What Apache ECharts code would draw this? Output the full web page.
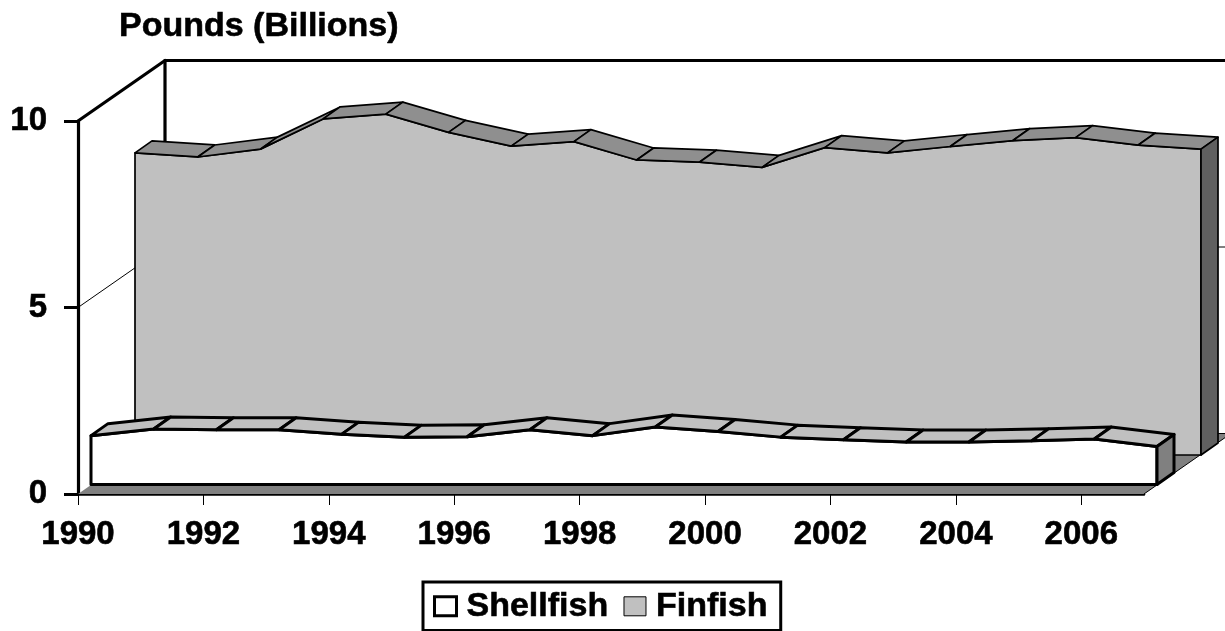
<!DOCTYPE html>
<html>
<head>
<meta charset="utf-8">
<style>html,body{margin:0;padding:0;background:#fff;overflow:hidden}#c{width:1225px;height:631px}</style>
<script src="https://cdn.jsdelivr.net/npm/echarts@6/dist/echarts.min.js"></script>
</head>
<body>
<div id="c"></div>
<script>
var chartTitle = 'Pounds (Billions)';
var years = ['1990','1991','1992','1993','1994','1995','1996','1997','1998','1999','2000','2001','2002','2003','2004','2005','2006','2007'];
var shellfish = [1.31,1.49,1.47,1.47,1.35,1.27,1.28,1.47,1.31,1.54,1.42,1.27,1.20,1.14,1.14,1.17,1.22,1.02];
var finfish = [8.10,7.99,8.20,9.01,9.14,8.65,8.28,8.40,7.91,7.85,7.71,8.24,8.10,8.27,8.43,8.51,8.31,8.20];
var wallTicks = [5];
var axisMax = 10;

var FONT = '"Liberation Sans", Arial, sans-serif';
var BACK = [87, -60.5];
var chart = echarts.init(document.getElementById('c'), null, {renderer: 'canvas'});

function poly(points, fill, stroke, lw) {
  return {type: 'polygon', silent: true, shape: {points: points},
    style: {fill: fill, stroke: stroke || null, lineWidth: lw || 0, lineJoin: 'round'}};
}
function line(a, b, lw, color) {
  return {type: 'line', silent: true, shape: {x1: a[0], y1: a[1], x2: b[0], y2: b[1]},
    style: {stroke: color || '#000', lineWidth: lw, lineCap: 'round'}};
}
function shift(p, o) { return [p[0] + o[0], p[1] + o[1]]; }

function ribbon(values, off, depth, front, top, side, lw) {
  return function (params, api) {
    if (params.dataIndex !== 0) return null;
    var tops = values.map(function (v, i) { return shift(api.coord([i, v]), off); });
    var last = values.length - 1;
    var bl = shift(api.coord([0, 0]), off), br = shift(api.coord([last, 0]), off);
    var kids = [];
    kids.push(poly([bl].concat(tops).concat([br]), front, '#000', lw));
    for (var i = 0; i < last; i++) {
      kids.push(poly([tops[i], tops[i + 1], shift(tops[i + 1], depth), shift(tops[i], depth)], top, '#000', lw));
    }
    kids.push(poly([tops[last], shift(tops[last], depth), shift(br, depth), br], side, '#000', lw));
    return {type: 'group', children: kids};
  };
}

function walls(params, api) {
  if (params.dataIndex !== 0) return null;
  var last = years.length - 1;
  var o0 = api.coord([0, 0]), o1 = api.coord([last, 0]);
  var t0 = api.coord([0, axisMax]), t1 = api.coord([last, axisMax]);
  var kids = [];
  kids.push(poly([o0, o1, shift(o1, BACK), shift(o0, BACK)], '#808080', null, 0));
  kids.push(line(o1, shift(o1, BACK), 1));
  kids.push(line(shift(o0, BACK), shift(o1, BACK), 1));
  wallTicks.forEach(function (v) {
    var a = api.coord([0, v]), b = api.coord([last, v]);
    kids.push(line(a, shift(a, BACK), 1));
    kids.push(line(shift(a, BACK), shift(b, BACK), 1));
  });
  kids.push(line(t0, shift(t0, BACK), 3.2));
  kids.push(line(shift(t0, BACK), shift(t1, BACK), 3.2));
  kids.push(line(shift(o0, BACK), shift(t0, BACK), 3.2));
  return {type: 'group', children: kids};
}

var heavy = {textBorderColor: '#000', textBorderWidth: 0.6};

chart.setOption({
  animation: false,
  backgroundColor: '#fff',
  title: {text: chartTitle, left: 119, top: 10, padding: 0,
    textStyle: {fontFamily: FONT, fontWeight: 'bold', fontSize: 34, color: '#000',
      textBorderColor: '#000', textBorderWidth: 0.6}},
  legend: {
    left: 423, top: 582, orient: 'horizontal', selectedMode: false,
    borderColor: '#000', borderWidth: 3, padding: [7, 13, 7, 10],
    itemWidth: 22, itemHeight: 19, itemGap: 15,
    textStyle: {fontFamily: FONT, fontWeight: 'bold', fontSize: 34, color: '#000', padding: [2, 0, 0, 5],
      textBorderColor: '#000', textBorderWidth: 0.6},
    data: [
      {name: 'Shellfish', icon: 'rect', itemStyle: {color: '#fff', borderColor: '#000', borderWidth: 3}},
      {name: 'Finfish', icon: 'rect', itemStyle: {color: '#c0c0c0', borderColor: '#000', borderWidth: 1}}
    ]
  },
  grid: {left: 78, top: 121, width: 1066, height: 373, containLabel: false},
  xAxis: {
    type: 'category', data: years, boundaryGap: false,
    axisLine: {show: true, lineStyle: {color: '#000', width: 2.5}},
    axisTick: {show: true, interval: 1, length: 11, lineStyle: {color: '#000', width: 1}},
    axisLabel: Object.assign({interval: 1, margin: 24, color: '#000', fontFamily: FONT, fontWeight: 'bold', fontSize: 33}, heavy),
    splitLine: {show: false}
  },
  yAxis: {
    type: 'value', min: 0, max: axisMax, interval: 5,
    axisLine: {show: true, lineStyle: {color: '#000', width: 3.2}},
    axisTick: {show: true, length: 14, lineStyle: {color: '#000', width: 3}},
    axisLabel: Object.assign({margin: 31, padding: [9, 0, 0, 0], color: '#000', fontFamily: FONT, fontWeight: 'bold', fontSize: 33}, heavy),
    splitLine: {show: false}
  },
  series: [
    {type: 'custom', name: 'walls', data: [[0, 0]], renderItem: walls, silent: true, z: 1, clip: false,
      encode: {x: 0, y: 1}},
    {type: 'custom', name: 'Finfish', data: finfish.map(function (v, i) { return [i, v]; }), z: 2, clip: false,
      encode: {x: 0, y: 1}, silent: true, itemStyle: {color: '#c0c0c0'},
      renderItem: ribbon(finfish, [57, -39], [17, -12], '#c0c0c0', '#8f8f8f', '#606060', 1.7)},
    {type: 'custom', name: 'Shellfish', data: shellfish.map(function (v, i) { return [i, v]; }), z: 3, clip: false,
      encode: {x: 0, y: 1}, silent: true, itemStyle: {color: '#fff'},
      renderItem: ribbon(shellfish, [13, -9.5], [17, -12], '#fff', '#c0c0c0', '#808080', 3)}
  ]
});
</script>
</body>
</html>
